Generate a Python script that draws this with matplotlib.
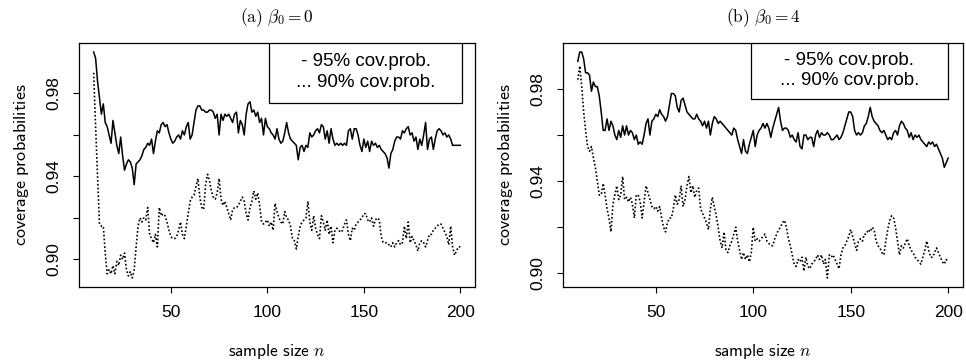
import numpy as np
import matplotlib
matplotlib.use("Agg")
import matplotlib.pyplot as plt
from matplotlib.patches import Rectangle

plt.rcParams['mathtext.fontset'] = 'cm'

n_values = list(range(10, 201))

left_95 = [
    1.000, 0.997, 0.986, 0.978, 0.970, 0.975, 0.966, 0.964, 0.960, 0.956,
    0.967, 0.961, 0.955, 0.951, 0.959, 0.950, 0.943, 0.946, 0.948, 0.947,
    0.944, 0.936, 0.946, 0.947, 0.948, 0.950, 0.953, 0.954, 0.956, 0.955,
    0.958, 0.951, 0.957, 0.962, 0.961, 0.965, 0.966, 0.964, 0.965, 0.961,
    0.958, 0.956, 0.957, 0.959, 0.960, 0.958, 0.962, 0.960, 0.964, 0.966,
    0.958, 0.960, 0.966, 0.972, 0.974, 0.974, 0.972, 0.972, 0.971, 0.971,
    0.972, 0.972, 0.971, 0.968, 0.970, 0.960, 0.970, 0.967, 0.970, 0.969,
    0.970, 0.968, 0.966, 0.970, 0.971, 0.961, 0.967, 0.965, 0.960, 0.970,
    0.975, 0.976, 0.971, 0.972, 0.969, 0.971, 0.966, 0.968, 0.960, 0.968,
    0.964, 0.963, 0.961, 0.960, 0.958, 0.963, 0.958, 0.956, 0.957, 0.961,
    0.966, 0.961, 0.958, 0.957, 0.956, 0.955, 0.948, 0.954, 0.955, 0.952,
    0.955, 0.954, 0.961, 0.959, 0.960, 0.962, 0.963, 0.961, 0.965, 0.964,
    0.958, 0.962, 0.956, 0.963, 0.958, 0.955, 0.956, 0.955, 0.956, 0.955,
    0.956, 0.955, 0.962, 0.963, 0.958, 0.963, 0.963, 0.960, 0.955, 0.952,
    0.958, 0.954, 0.957, 0.952, 0.957, 0.955, 0.956, 0.954, 0.955, 0.953,
    0.952, 0.951, 0.949, 0.944, 0.951, 0.953, 0.957, 0.959, 0.959, 0.958,
    0.962, 0.961, 0.963, 0.964, 0.960, 0.961, 0.957, 0.959, 0.953, 0.958,
    0.955, 0.960, 0.966, 0.953, 0.958, 0.959, 0.953, 0.958, 0.962, 0.963,
    0.962, 0.960, 0.961, 0.959, 0.960, 0.958, 0.955, 0.955, 0.955, 0.955,
    0.955,
]

left_90 = [
    0.990, 0.964, 0.940, 0.917, 0.916, 0.916, 0.903, 0.893, 0.895, 0.893,
    0.897, 0.893, 0.899, 0.897, 0.902, 0.900, 0.903, 0.895, 0.892, 0.894,
    0.891, 0.895, 0.906, 0.916, 0.920, 0.918, 0.920, 0.919, 0.925, 0.912,
    0.910, 0.908, 0.912, 0.906, 0.925, 0.921, 0.922, 0.921, 0.918, 0.914,
    0.911, 0.910, 0.910, 0.911, 0.914, 0.918, 0.912, 0.910, 0.916, 0.922,
    0.928, 0.930, 0.931, 0.935, 0.939, 0.930, 0.925, 0.924, 0.936, 0.941,
    0.938, 0.933, 0.930, 0.929, 0.932, 0.939, 0.929, 0.926, 0.928, 0.925,
    0.922, 0.919, 0.924, 0.925, 0.925, 0.926, 0.928, 0.930, 0.928, 0.922,
    0.919, 0.925, 0.928, 0.933, 0.929, 0.932, 0.926, 0.918, 0.917, 0.918,
    0.919, 0.916, 0.918, 0.914, 0.927, 0.923, 0.920, 0.918, 0.917, 0.923,
    0.920, 0.919, 0.916, 0.910, 0.909, 0.905, 0.911, 0.916, 0.918, 0.919,
    0.920, 0.928, 0.918, 0.914, 0.921, 0.915, 0.912, 0.910, 0.921, 0.918,
    0.914, 0.919, 0.912, 0.916, 0.908, 0.914, 0.915, 0.914, 0.913, 0.914,
    0.917, 0.919, 0.912, 0.909, 0.915, 0.914, 0.917, 0.918, 0.919, 0.920,
    0.922, 0.922, 0.919, 0.918, 0.920, 0.916, 0.919, 0.920, 0.919, 0.911,
    0.908, 0.908, 0.908, 0.907, 0.906, 0.908, 0.906, 0.908, 0.909, 0.907,
    0.908, 0.916, 0.910, 0.918, 0.908, 0.911, 0.909, 0.907, 0.904, 0.908,
    0.909, 0.908, 0.906, 0.909, 0.912, 0.912, 0.914, 0.915, 0.916, 0.917,
    0.917, 0.915, 0.913, 0.911, 0.907, 0.916, 0.906, 0.902, 0.904, 0.906,
    0.906,
]

right_95 = [
    0.992, 0.996, 0.996, 0.993, 0.987, 0.987, 0.986, 0.979, 0.983, 0.981,
    0.981, 0.977, 0.970, 0.962, 0.962, 0.967, 0.962, 0.966, 0.964, 0.960,
    0.958, 0.962, 0.959, 0.964, 0.960, 0.964, 0.960, 0.962, 0.961, 0.958,
    0.960, 0.956, 0.957, 0.956, 0.960, 0.965, 0.967, 0.960, 0.966, 0.967,
    0.969, 0.968, 0.971, 0.969, 0.968, 0.966, 0.968, 0.973, 0.978, 0.978,
    0.977, 0.972, 0.970, 0.975, 0.976, 0.973, 0.970, 0.969, 0.968, 0.967,
    0.967, 0.969, 0.967, 0.966, 0.964, 0.966, 0.963, 0.966, 0.960, 0.965,
    0.968, 0.967, 0.965, 0.966, 0.965, 0.964, 0.963, 0.962, 0.961, 0.960,
    0.963, 0.962, 0.958, 0.955, 0.952, 0.958, 0.953, 0.952, 0.956, 0.959,
    0.962, 0.955, 0.960, 0.962, 0.963, 0.965, 0.963, 0.965, 0.963, 0.959,
    0.963, 0.966, 0.969, 0.972, 0.966, 0.962, 0.963, 0.963, 0.962, 0.959,
    0.960, 0.958, 0.957, 0.961, 0.955, 0.954, 0.960, 0.960, 0.958, 0.959,
    0.959, 0.955, 0.960, 0.962, 0.959, 0.961, 0.960, 0.960, 0.961, 0.960,
    0.958, 0.958, 0.959, 0.960, 0.958, 0.959, 0.961, 0.964, 0.967, 0.970,
    0.970, 0.968, 0.962, 0.960, 0.961, 0.960, 0.961, 0.964, 0.965, 0.968,
    0.972, 0.968, 0.966, 0.965, 0.964, 0.962, 0.961, 0.962, 0.960, 0.958,
    0.959, 0.958, 0.961, 0.962, 0.960, 0.964, 0.966, 0.965, 0.963, 0.962,
    0.959, 0.961, 0.958, 0.960, 0.959, 0.960, 0.958, 0.957, 0.956, 0.955,
    0.957, 0.956, 0.957, 0.955, 0.956, 0.954, 0.952, 0.950, 0.946, 0.948,
    0.950,
]

right_90 = [
    0.984, 0.990, 0.981, 0.970, 0.962, 0.955, 0.953, 0.955, 0.950, 0.946,
    0.940, 0.934, 0.934, 0.939, 0.934, 0.928, 0.924, 0.918, 0.930, 0.934,
    0.938, 0.932, 0.934, 0.942, 0.932, 0.933, 0.931, 0.933, 0.930, 0.924,
    0.934, 0.934, 0.931, 0.924, 0.931, 0.938, 0.935, 0.932, 0.929, 0.928,
    0.929, 0.927, 0.929, 0.924, 0.920, 0.918, 0.922, 0.924, 0.924, 0.928,
    0.934, 0.930, 0.932, 0.938, 0.929, 0.932, 0.938, 0.942, 0.935, 0.938,
    0.933, 0.936, 0.937, 0.928, 0.926, 0.924, 0.922, 0.919, 0.928, 0.933,
    0.929, 0.925, 0.920, 0.914, 0.911, 0.918, 0.910, 0.909, 0.912, 0.914,
    0.917, 0.920, 0.914, 0.910, 0.906, 0.909, 0.906, 0.908, 0.905, 0.909,
    0.920, 0.914, 0.915, 0.914, 0.915, 0.916, 0.917, 0.914, 0.913, 0.912,
    0.912, 0.915, 0.917, 0.919, 0.920, 0.922, 0.923, 0.920, 0.915, 0.912,
    0.908, 0.904, 0.903, 0.906, 0.905, 0.907, 0.901, 0.907, 0.903, 0.902,
    0.904, 0.905, 0.906, 0.908, 0.906, 0.908, 0.904, 0.906, 0.898, 0.908,
    0.907, 0.908, 0.906, 0.904, 0.902, 0.908, 0.911, 0.912, 0.914, 0.916,
    0.919, 0.916, 0.913, 0.910, 0.914, 0.915, 0.914, 0.917, 0.917, 0.919,
    0.918, 0.920, 0.919, 0.914, 0.912, 0.911, 0.909, 0.908, 0.914, 0.919,
    0.923, 0.925, 0.924, 0.920, 0.914, 0.908, 0.912, 0.911, 0.913, 0.915,
    0.912, 0.910, 0.909, 0.907, 0.906, 0.905, 0.904, 0.907, 0.910, 0.914,
    0.910, 0.907, 0.907, 0.909, 0.911, 0.909, 0.907, 0.905, 0.904, 0.906,
    0.905,
]

panel_titles = [r"$\mathrm{(a)}\ \beta_0 = 0$", r"$\mathrm{(b)}\ \beta_0 = 4$"]
legend_lines = ["- 95% cov.prob.", "... 90% cov.prob."]
x_ticks = [50, 100, 150, 200]
y_ticks = [0.90, 0.92, 0.94, 0.96, 0.98]
y_ticklabels = ["0.90", "", "0.94", "", "0.98"]

fig = plt.figure(figsize=(9.66, 3.62), dpi=100)
axes_rects = [
    [79 / 966, 1 - 287 / 362, 396 / 966, 244 / 362],
    [563 / 966, 1 - 287 / 362, 400 / 966, 244 / 362],
]
legend_boxes = [(0.480, 0.754, 0.487), (0.470, 0.770, 0.4925)]
series = [(left_95, left_90), (right_95, right_90)]

tick_font = dict(family="Liberation Sans", size=12.5)

for i in range(2):
    ax = fig.add_axes(axes_rects[i])
    s95, s90 = series[i]
    ax.plot(n_values, s95, color="black", lw=1.1, ls="-")
    ax.plot(n_values, s90, color="black", lw=1.2, ls=(0, (1, 1.3)))
    ax.margins(x=0.04, y=0.04)
    ax.set_xticks(x_ticks)
    ax.set_xticklabels([str(t) for t in x_ticks], fontdict=tick_font)
    ax.set_yticks(y_ticks)
    ax.set_yticklabels(y_ticklabels, fontdict=tick_font, rotation=90, va="center")
    ax.tick_params(direction="out", length=4, width=0.8, pad=9)
    for sp in ax.spines.values():
        sp.set_linewidth(0.9)
    ax.set_title(panel_titles[i], fontsize=12.5, pad=15)
    ax.set_xlabel(r"$\mathsf{sample\ size}\ n$", fontsize=12.5, labelpad=16)
    ax.set_ylabel(r"$\mathsf{coverage\ probabilities}$", fontsize=13, labelpad=11)
    x0, y0, w = legend_boxes[i]
    ax.add_patch(Rectangle((x0, y0), w, 1 - y0, transform=ax.transAxes,
                           fill=True, facecolor="white", edgecolor="black",
                           lw=0.9, zorder=5))
    cx = x0 + w / 2
    ax.text(cx, y0 + (1 - y0) * 0.69, legend_lines[0], transform=ax.transAxes,
            ha="center", va="center", zorder=6, fontfamily="Liberation Sans", fontsize=13.5)
    ax.text(cx, y0 + (1 - y0) * 0.34, legend_lines[1], transform=ax.transAxes,
            ha="center", va="center", zorder=6, fontfamily="Liberation Sans", fontsize=13.5)

fig.savefig("out.png", dpi=100)
